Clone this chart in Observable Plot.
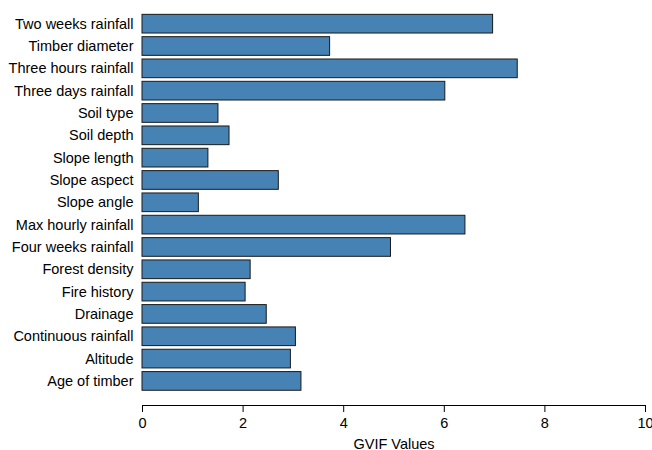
<!DOCTYPE html>
<html>
<head>
<meta charset="utf-8">
<script src="https://cdn.jsdelivr.net/npm/d3@7"></script>
<script src="https://cdn.jsdelivr.net/npm/@observablehq/plot@0.6"></script>
<style>
  body { margin: 0; background: #fff; }
  #chart svg { display: block; }
</style>
</head>
<body>
<div id="chart"></div>
<script>
const variables = [
  "Two weeks rainfall", "Timber diameter", "Three hours rainfall", "Three days rainfall",
  "Soil type", "Soil depth", "Slope length", "Slope aspect", "Slope angle",
  "Max hourly rainfall", "Four weeks rainfall", "Forest density", "Fire history",
  "Drainage", "Continuous rainfall", "Altitude", "Age of timber"
];
const gvif = [6.97, 3.73, 7.46, 6.02, 1.51, 1.73, 1.31, 2.71, 1.12,
              6.42, 4.94, 2.15, 2.05, 2.47, 3.05, 2.95, 3.16];
const xTicks = [0, 2, 4, 6, 8, 10];
const xLabel = "GVIF Values";

const data = variables.map((v, i) => ({variable: v, value: gvif[i]}));

const chart = Plot.plot({
  width: 652,
  height: 450,
  marginLeft: 142,
  marginRight: 7,
  marginTop: 10,
  marginBottom: 45,
  style: {fontFamily: "'Liberation Sans', Arial, sans-serif", fontSize: "14.5px", color: "black", background: "white"},
  x: {domain: [0, 10]},
  y: {domain: variables, range: [10.7, 393.9], padding: 0.163, round: false},
  marks: [
    Plot.barX(data, {x: "value", y: "variable", fill: "#4682b4", stroke: "#1a1a1a", strokeWidth: 1}),
    Plot.frame({anchor: "bottom", stroke: "black"}),
    Plot.axisX({ticks: xTicks, tickSize: 7, tickPadding: 5, label: xLabel, labelAnchor: "center", labelArrow: "none", labelOffset: 43, fontSize: 14.5}),
    Plot.axisY({tickSize: 0, tickPadding: 9, label: null, fontSize: 14.5})
  ]
});
document.getElementById("chart").appendChild(chart);
</script>
</body>
</html>
